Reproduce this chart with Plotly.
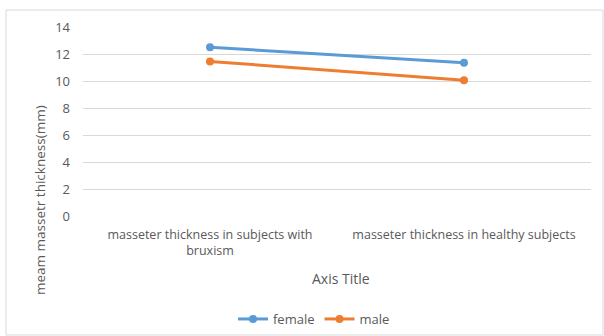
import plotly.graph_objects as go

categories = ["masseter thickness in subjects with<br>bruxism", "masseter thickness in healthy subjects"]
female = [12.5, 11.35]
male = [11.45, 10.05]
y_ticks = [0, 2, 4, 6, 8, 10, 12, 14]

FONT = "Open Sans, Liberation Sans, sans-serif"
GRAY = "#595959"

L, R, T, B = 83, 591, 27, 216
W, H = R - L, B - T

def px(x):
    return (x - L) / W

def py(y):
    return (B - y) / H

fig = go.Figure()
fig.add_trace(go.Scatter(x=categories, y=female, name="female", mode="lines+markers",
                         line=dict(color="#5B9BD5", width=3), marker=dict(size=8, color="#5B9BD5")))
fig.add_trace(go.Scatter(x=categories, y=male, name="male", mode="lines+markers",
                         line=dict(color="#ED7D31", width=3), marker=dict(size=8, color="#ED7D31")))

fig.update_layout(
    width=604, height=336,
    margin=dict(l=L, r=604 - R, t=T, b=336 - B),
    paper_bgcolor="white", plot_bgcolor="white",
    font=dict(family=FONT, color=GRAY, size=12),
    showlegend=True,
    legend=dict(orientation="h", xref="container", yref="container",
                x=314 / 604, xanchor="center", y=(336 - 319) / 336, yanchor="middle",
                font=dict(size=13, color=GRAY)),
    xaxis=dict(type="category", range=[-0.5, 1.5], showgrid=False, showline=False,
               ticks="", tickfont=dict(size=12.5, color=GRAY), automargin=False,
               ticklabelstandoff=9),
    yaxis=dict(range=[0, 14], tickvals=y_ticks, showgrid=True, gridcolor="#d9d9d9", gridwidth=1,
               zeroline=False, showline=False, ticks="", tickfont=dict(size=13, color=GRAY),
               ticklabelstandoff=12, automargin=False),
    annotations=[
        dict(text="meam massetr thickness(mm)", xref="paper", yref="paper", x=px(40), y=py(200),
             textangle=-90, showarrow=False, xanchor="center", yanchor="middle",
             font=dict(size=13.5, color=GRAY)),
        dict(text="Axis Title", xref="paper", yref="paper", x=px(341), y=py(278),
             showarrow=False, xanchor="center", yanchor="middle",
             font=dict(size=14, color=GRAY)),
    ],
    shapes=[dict(type="rect", xref="paper", yref="paper", x0=px(6), x1=px(603), y0=py(335), y1=py(10),
                 line=dict(color="#d9d9d9", width=1), fillcolor="rgba(0,0,0,0)", layer="below")],
)

fig.write_html("out.html")
